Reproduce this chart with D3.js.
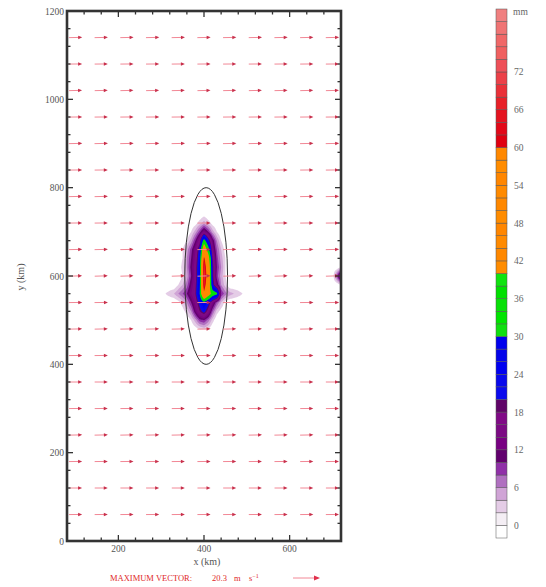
<!DOCTYPE html>
<html><head><meta charset="utf-8">
<script src="https://cdn.jsdelivr.net/npm/d3@7/dist/d3.min.js"></script>
<style>body{margin:0;background:#fff}svg{display:block}text{font-family:"Liberation Serif","DejaVu Serif",serif}</style>
</head><body><svg id="c" width="546" height="587"></svg>
<script>
// ---------------- DATA ----------------
const xTicks = [200, 400, 600];
const yTicks = [0, 200, 400, 600, 800, 1000, 1200];
const cbLabels = [0, 6, 12, 18, 24, 30, 36, 42, 48, 54, 60, 66, 72];
const cbLevels = [0,2,4,6,8,10,12,14,16,18,20,22,24,26,28,30,32,34,36,38,40,42,44,46,48,50,52,54,56,58,60,62,64,66,68,70,72,74,76,78,80];
const cbColors = ["#ffffff","#f4eef4","#e4cce6","#d0a4d6","#b070c0","#9030a8","#62006e","#780082","#7c0a84","#800a86","#600468",
  "#0a0aee","#0808ec","#0000f0","#0404ea","#0000ee",
  "#10e010","#00e400","#08e008","#00e000","#10e410",
  "#ff8c00","#ff8800","#ff8a00","#ff8600","#ff8c00","#ff8800","#ff8a00","#ff8600","#ff8c00","#ff8800",
  "#e00010","#e20818","#e41420","#e82028","#ea3038","#ec4048","#ee5058","#f06060","#f06868","#f07474","#f08080"];

// precipitation field (mm), rows top->bottom
const precipX = [300,310,320,330,340,350,360,370,380,390,400,410,420,430,440,450,460,470,480,490,500];
const precipY = [740,720,700,680,660,640,620,600,580,560,540,520,500,480];
const precip = [
 [0,0,0,0,0,0,0,0,0,0,1,0,0,0,0,0,0,0,0,0,0],
 [0,0,0,0,0,0,0,0,1,3,5,3,1,0,0,0,0,0,0,0,0],
 [0,0,0,0,0,0,0,2,5,9,14,10,5,2,0,0,0,0,0,0,0],
 [0,0,0,0,0,0,2,5,10,16,34,22,12,6,2,0,0,0,0,0,0],
 [0,0,0,0,0,2,5,9,14,22,50,34,14,8,4,1,0,0,0,0,0],
 [0,0,0,0,0,2,6,10,15,24,62,46,18,9,5,2,0,0,0,0,0],
 [0,0,0,0,0,3,6,11,16,26,68,50,20,10,6,2,0,0,0,0,0],
 [0,0,0,0,0,2,5,10,16,27,70,52,20,9,5,2,0,0,0,0,0],
 [0,0,0,0,2,4,7,12,17,28,66,50,22,12,6,3,0,0,0,0,0],
 [1,2,3,4,6,8,10,14,18,30,58,46,36,32,10,7,5,4,3,2,1],
 [0,0,0,0,1,3,6,10,15,22,28,22,14,8,4,1,0,0,0,0,0],
 [0,0,0,0,0,1,3,6,12,18,22,16,8,3,1,0,0,0,0,0,0],
 [0,0,0,0,0,0,0,2,5,9,10,7,3,0,0,0,0,0,0,0,0],
 [0,0,0,0,0,0,0,0,1,2,3,2,0,0,0,0,0,0,0,0,0]
];
// small feature at the right edge
const edgeX = [690, 700, 710, 720];
const edgeY = [620, 600, 580];
const edgeP = [
 [0,0,0,2],
 [0,0,8,18],
 [0,0,0,2]
];

// ellipse (km)
const ellipseCenter = [405, 600];
const ellipseRadii = [50, 200];

// wind vectors
const vecX = [100,160,220,280,340,400,460,520,580,640,700];
const vecY = [60,120,180,240,300,360,420,480,540,600,660,720,780,840,900,960,1020,1080,1140];
const vecU = [9.9,9.8,9.9,10.0,9.8,9.9,10.0,9.9,10.1,9.8,10.0,9.9,10.0,9.9,10.1,10.0,9.8,9.9,10.0];
const vecV = [0.1,0.0,0.1,0.2,0.1,0.0,0.1,0.2,0.1,0.3,0.2,0.1,0.2,0.1,0.2,0.1,0.2,0.1,0.2];
const maxVector = 20.3;

// ---------------- DRAW ----------------
const svg = d3.select("#c");
const x = d3.scaleLinear([80, 720], [67, 341]);
const y = d3.scaleLinear([0, 1200], [541, 11]);
const cbY = d3.scaleLinear([-2, 82], [538, 9]);
const colorOf = (lvl) => cbColors[cbLevels.indexOf(lvl) + 1];

svg.append("defs").append("clipPath").attr("id","clip").append("rect")
  .attr("x", x(80)).attr("y", y(1200)).attr("width", x(720)-x(80)).attr("height", y(0)-y(1200));
const plot = svg.append("g").attr("clip-path","url(#clip)");

function upsample(xs, ys, vals, fx, fy) {
  const nx = (xs.length-1)*fx+1, ny = (ys.length-1)*fy+1;
  const out = new Array(nx*ny);
  for (let j = 0; j < ny; j++) {
    const gy = j/fy, j0 = Math.min(Math.floor(gy), ys.length-2), ty = gy - j0;
    for (let i = 0; i < nx; i++) {
      const gx = i/fx, i0 = Math.min(Math.floor(gx), xs.length-2), tx = gx - i0;
      const v = vals[j0][i0]*(1-tx)*(1-ty) + vals[j0][i0+1]*tx*(1-ty) + vals[j0+1][i0]*(1-tx)*ty + vals[j0+1][i0+1]*tx*ty;
      out[j*nx+i] = v;
    }
  }
  return {nx, ny, values: out, x0: xs[0], dx: (xs[1]-xs[0])/fx, y0: ys[0], dy: (ys[1]-ys[0])/fy};
}

function drawField(xs, ys, vals, fx, fy) {
  const g = upsample(xs, ys, vals, fx, fy);
  const thresholds = cbLevels.filter(l => l >= 2);
  const cs = d3.contours().size([g.nx, g.ny]).smooth(true).thresholds(thresholds)(g.values);
  const tr = d3.geoTransform({point(px, py) {
    this.stream.point(x(g.x0 + (px-0.5)*g.dx), y(g.y0 + (py-0.5)*g.dy));
  }});
  const path = d3.geoPath(tr);
  plot.append("g").selectAll("path").data(cs).join("path")
    .attr("d", path).attr("fill", d => colorOf(d.value)).attr("stroke", "none");
}
drawField(precipX, precipY, precip, 5, 10);
drawField(edgeX, edgeY, edgeP, 5, 10);

// ellipse
plot.append("ellipse")
  .attr("cx", x(ellipseCenter[0])).attr("cy", y(ellipseCenter[1]))
  .attr("rx", x(ellipseCenter[0]+ellipseRadii[0]) - x(ellipseCenter[0]))
  .attr("ry", y(ellipseCenter[1]) - y(ellipseCenter[1]+ellipseRadii[1]))
  .attr("fill","none").attr("stroke","#333").attr("stroke-width",1);

// vectors
const pxPerMs = 27/maxVector;
function arrow(g, x0, y0, dxp, dyp, lineCol, headCol, headL, headW) {
  const L = Math.hypot(dxp, dyp), ux = dxp/L, uy = dyp/L;
  const hx = x0+dxp, hy = y0+dyp;
  g.append("line").attr("x1", x0).attr("y1", y0).attr("x2", hx-ux*headL*0.6).attr("y2", hy-uy*headL*0.6)
    .attr("stroke", lineCol).attr("stroke-width", 1);
  const bx = hx-ux*headL, by = hy-uy*headL;
  g.append("path").attr("d", `M${hx},${hy}L${bx-uy*headW},${by+ux*headW}L${bx+uy*headW},${by-ux*headW}Z`)
    .attr("fill", headCol);
}
const vg = plot.append("g");
vecY.forEach((vy, j) => {
  vecX.forEach(vx => {
    const dxp = vecU[j]*pxPerMs, dyp = -vecV[j]*pxPerMs;
    const cx = x(vx), cy = y(vy);
    arrow(vg, cx - dxp/2, cy - dyp/2, dxp, dyp, "#f28896", "#c8304c", 4, 1.8);
  });
});

// frame & ticks
const frame = svg.append("g");
const minorStep = 40;
const xMinor = d3.range(80, 721, minorStep).filter(v => !xTicks.includes(v));
const yMinor = d3.range(0, 1201, minorStep).filter(v => !yTicks.includes(v));
function tickSet(vals, len) {
  vals.forEach(v => {
    frame.append("line").attr("x1", x(v)).attr("x2", x(v)).attr("y1", y(0)).attr("y2", y(0)-len).attr("stroke","#333").attr("stroke-width",1.3);
    frame.append("line").attr("x1", x(v)).attr("x2", x(v)).attr("y1", y(1200)).attr("y2", y(1200)+len).attr("stroke","#333").attr("stroke-width",1.3);
  });
}
tickSet(xTicks, 6); tickSet(xMinor, 3.5);
function tickSetY(vals, len) {
  vals.forEach(v => {
    frame.append("line").attr("y1", y(v)).attr("y2", y(v)).attr("x1", x(80)).attr("x2", x(80)+len).attr("stroke","#333").attr("stroke-width",1.3);
    frame.append("line").attr("y1", y(v)).attr("y2", y(v)).attr("x1", x(720)).attr("x2", x(720)-len).attr("stroke","#333").attr("stroke-width",1.3);
  });
}
tickSetY(yTicks, 6); tickSetY(yMinor, 3.5);
frame.append("rect").attr("x", x(80)).attr("y", y(1200)).attr("width", x(720)-x(80)).attr("height", y(0)-y(1200))
  .attr("fill","none").attr("stroke","#333").attr("stroke-width",2.6);

// tick labels
svg.append("g").selectAll("text").data(xTicks).join("text")
  .attr("x", d => x(d)).attr("y", 552).attr("text-anchor","middle").attr("font-size", 9.5).attr("fill","#555").text(d => d);
svg.append("g").selectAll("text").data(yTicks).join("text")
  .attr("x", 64).attr("y", d => y(d)+3.5).attr("text-anchor","end").attr("font-size", 9.5).attr("fill","#555").text(d => d);
svg.append("text").attr("x", 207).attr("y", 565).attr("text-anchor","middle").attr("font-size", 10).attr("fill","#555").text("x (km)");
svg.append("text").attr("transform","translate(24,277) rotate(-90)").attr("text-anchor","middle").attr("font-size", 10).attr("fill","#555").text("y (km)");

// max vector legend
const mv = svg.append("text").attr("x", 110).attr("y", 581).attr("font-size", 8.5).attr("fill","#e02828");
mv.append("tspan").text("MAXIMUM VECTOR:");
mv.append("tspan").attr("x", 212).text(maxVector.toFixed(1));
mv.append("tspan").attr("x", 234).text("m");
mv.append("tspan").attr("x", 249).text("s");
mv.append("tspan").attr("dy", -3.5).attr("font-size", 6).text("−1");
arrow(svg, 293, 578, maxVector*pxPerMs, 0, "#f28896", "#e0304c", 6, 2.4);

// colorbar
const cb = svg.append("g");
const boxLows = [-2].concat(cbLevels);
cb.selectAll("rect").data(boxLows).join("rect")
  .attr("x", 496).attr("width", 11)
  .attr("y", (d) => cbY(d+2)).attr("height", d => cbY(d) - cbY(d+2))
  .attr("fill", (d, i) => cbColors[i]).attr("stroke","#555").attr("stroke-width",0.5);
cb.selectAll("text").data(cbLabels).join("text")
  .attr("x", 514).attr("y", d => cbY(d)+3.5).attr("font-size", 9.5).attr("fill","#666").text(d => d);
cb.append("text").attr("x", 513).attr("y", 15).attr("font-size", 9.5).attr("fill","#666").text("mm");
</script></body></html>
